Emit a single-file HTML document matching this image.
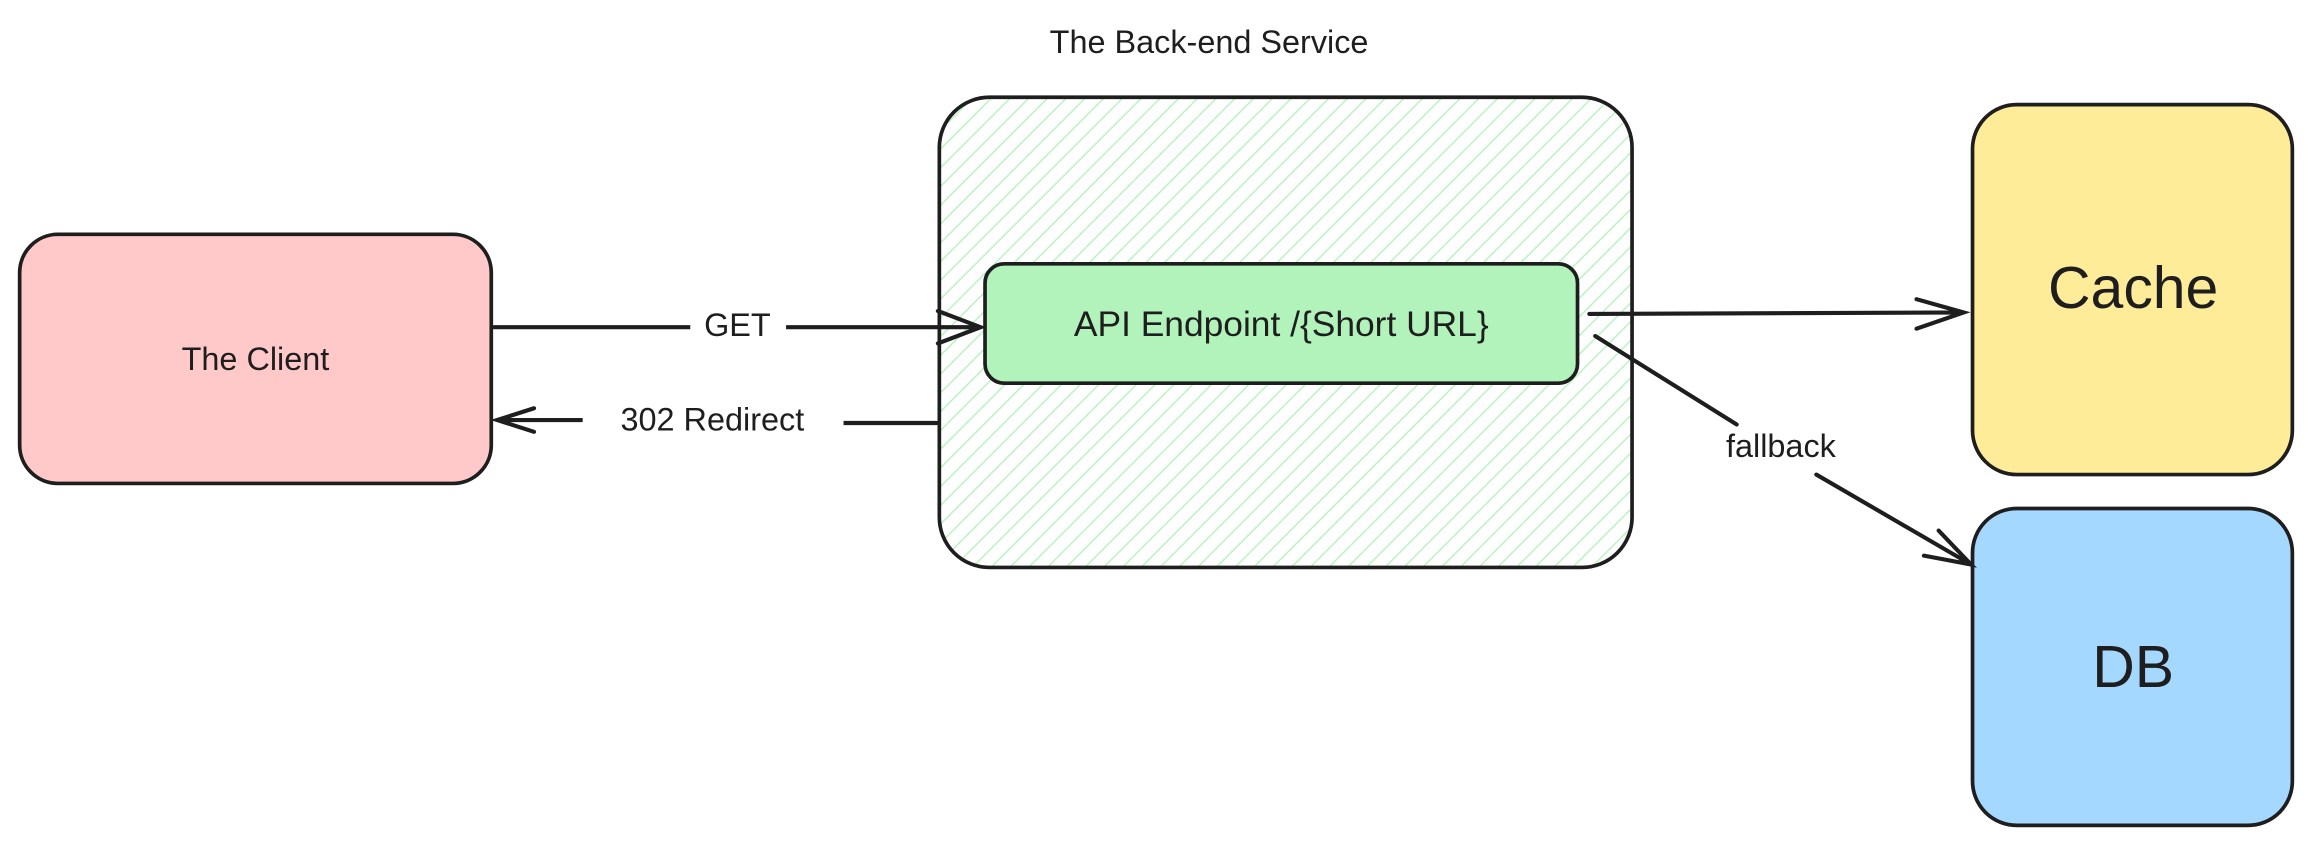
<!DOCTYPE html>
<html><head><meta charset="utf-8"><style>
html,body{margin:0;padding:0;background:#fff;width:2312px;height:846px;overflow:hidden}
svg{display:block}
text{font-family:"Liberation Sans",sans-serif;fill:#1e1e1e}
</style></head><body>
<svg width="2312" height="846" viewBox="0 0 1568 574" xmlns="http://www.w3.org/2000/svg">
<defs>
<pattern id="h" patternUnits="userSpaceOnUse" width="9" height="9" patternTransform="rotate(45)">
<line x1="0" y1="0" x2="0" y2="9" stroke="#b2f2bb" stroke-width="1.8"/>
</pattern>
</defs>
<rect width="1568" height="574" fill="#fff"/>
<text x="820" y="36" font-size="22" text-anchor="middle">The Back-end Service</text>
<rect x="13" y="159" width="320" height="169" rx="26" fill="#ffc9c9" stroke="#1e1e1e" stroke-width="2.5"/>
<text x="173" y="251" font-size="22" text-anchor="middle">The Client</text>
<rect x="637" y="66" width="470" height="319" rx="34" fill="url(#h)" stroke="#1e1e1e" stroke-width="2.5"/>
<rect x="668" y="179" width="402" height="81" rx="13" fill="#b2f2bb" stroke="#1e1e1e" stroke-width="2.5"/>
<text x="869" y="228" font-size="24" text-anchor="middle">API Endpoint /{Short URL}</text>
<rect x="1338" y="71" width="217" height="251" rx="30" fill="#ffec99" stroke="#1e1e1e" stroke-width="2.5"/>
<text x="1447" y="209" font-size="40" text-anchor="middle">Cache</text>
<rect x="1338" y="345" width="217" height="215" rx="30" fill="#a5d8ff" stroke="#1e1e1e" stroke-width="2.5"/>
<text x="1447" y="466" font-size="40" text-anchor="middle">DB</text>
<g stroke="#1e1e1e" stroke-width="2.8" fill="none" stroke-linecap="round">
<path d="M335 222 L468 222 M533 222 L665 222 M636 211 L665 222 L636 233"/>
<path d="M635 287 L572 287 M395 285 L337 285 M362 277 L337 285 L362 293"/>
<path d="M1078 213 L1332 212 M1300 203 L1332 212 L1300 223"/>
<path d="M1082 228 L1178 288 M1232 322 L1337 383 M1305 377 L1337 383 L1315 360"/>
</g>
<rect x="468" y="207" width="65" height="28" fill="#fff"/>
<text x="500" y="228" font-size="22" text-anchor="middle">GET</text>
<rect x="395" y="271" width="177" height="28" fill="#fff"/>
<text x="483" y="292" font-size="22" text-anchor="middle">302 Redirect</text>
<text x="1208" y="310" font-size="22" text-anchor="middle">fallback</text>
</svg>
</body></html>
